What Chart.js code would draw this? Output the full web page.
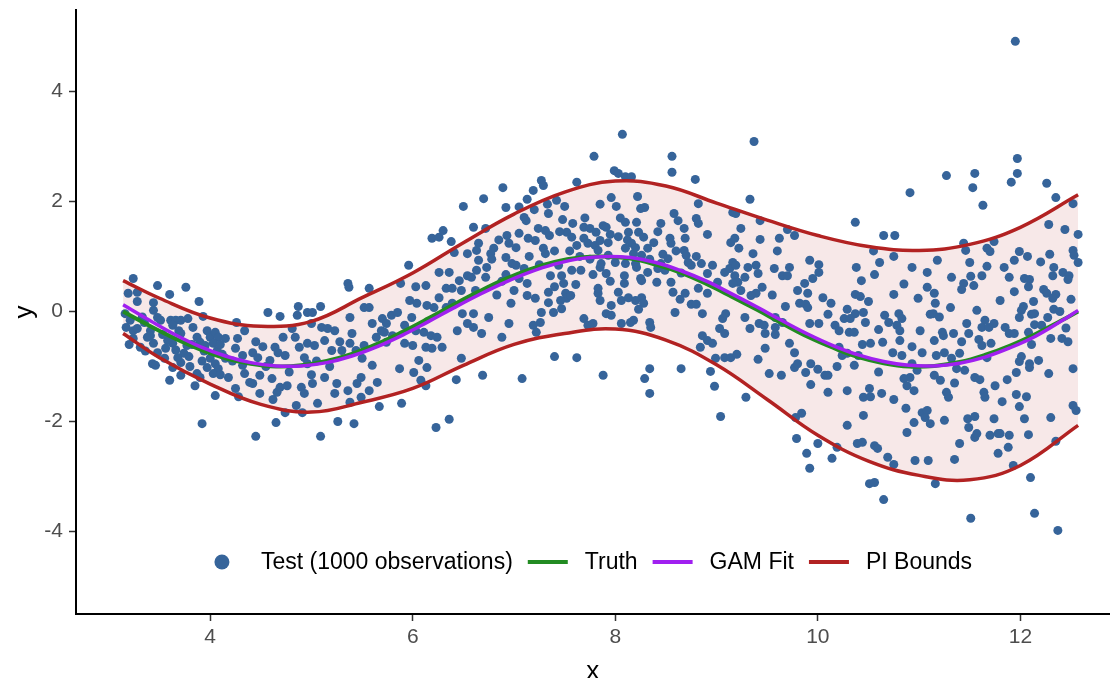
<!DOCTYPE html>
<html>
<head>
<meta charset="utf-8">
<script src="https://cdn.jsdelivr.net/npm/chart.js@4/dist/chart.umd.min.js"></script>
<style>
  html, body { margin: 0; padding: 0; background: #fff; }
  #wrap { width: 1114px; height: 678px; }
</style>
</head>
<body>
<div id="wrap"><canvas id="gamChart" width="1114" height="678"></canvas></div>
<script>
// test observations (x, y)
const testPoints = [
  [3.24,0.6],[3.48,0.47],[3.76,0.44],[3.6,0.31],[3.89,0.18],[3.19,0.33],[3.28,0.35],[3.28,0.18],[3.44,0.16],[3.16,-0.04],
  [3.17,-0.29],[3.24,-0.35],[3.28,-0.31],[3.38,-0.47],[3.41,-0.35],[3.48,-0.11],[3.51,-0.16],[3.44,0.02],[3.61,-0.16],[3.66,-0.16],
  [3.71,-0.16],[3.63,-0.25],[3.69,-0.35],[3.71,-0.4],[3.63,-0.58],[3.58,-0.53],[3.44,-0.58],[3.41,-0.44],[3.48,-0.75],[3.43,-0.95],
  [3.46,-0.98],[3.63,-1.02],[3.71,-1.16],[3.71,-0.93],[3.74,-0.76],[3.68,-0.84],[3.77,-0.62],[3.83,-0.29],[3.87,-0.47],[3.9,-0.56],
  [3.97,-0.35],[4.0,-0.47],[4.05,-0.38],[4.08,-0.47],[4.03,-0.58],[4.07,-0.71],[4.0,-0.85],[4.05,-0.95],[4.08,-1.04],[4.03,-1.13],
  [3.97,-1.02],[4.15,-0.49],[4.15,-0.85],[4.18,-1.2],[3.87,-1.13],[3.85,-1.35],[4.05,-1.53],[3.93,-0.09],[3.92,-2.04],[3.24,-0.49],
  [3.31,-0.65],[3.21,-0.16],[3.78,-0.13],
  [3.35,-0.2],[3.53,-0.42],[3.56,-0.67],[3.66,-0.7],[3.79,-0.82],[3.82,-0.6],[3.94,-0.72],[3.95,-0.62],[4.1,-0.6],[4.12,-0.78],
  [4.22,-0.9],[4.1,-1.15],[3.92,-0.9],[3.8,-1.0],[3.55,-0.85],[3.33,-0.1],[3.2,-0.6],[3.36,-0.72],[3.6,-1.25],[3.9,-1.2],
  [5.36,0.51],[5.37,0.44],[4.57,-0.02],[4.69,-0.09],[4.87,0.09],[4.86,-0.07],[4.96,-0.02],[5.01,-0.02],[5.09,0.09],[4.26,-0.2],
  [4.34,-0.35],[4.27,-0.49],[4.25,-0.67],[4.32,-0.8],[4.42,-0.75],[4.52,-0.64],[4.64,-0.65],[4.67,-0.75],[4.74,-0.8],[4.72,-0.47],
  [4.84,-0.47],[4.81,-0.31],[4.96,-0.58],[5.03,-0.62],[5.0,-0.22],[5.1,-0.29],[5.16,-0.31],[5.23,-0.35],[5.13,-0.53],[5.2,-0.71],
  [5.3,-0.71],[5.38,-0.58],[5.4,-0.4],[4.93,-0.84],[4.96,-0.95],[4.34,-1.13],[4.39,-1.29],[4.42,-1.31],[4.49,-1.16],[4.61,-1.22],
  [4.66,-1.47],[4.69,-1.38],[4.76,-1.35],[4.49,-1.49],[4.25,-1.4],[4.28,-1.55],[4.9,-1.38],[4.93,-1.49],[5.01,-1.31],[5.13,-1.2],
  [5.25,-1.31],[5.23,-1.49],[5.36,-1.44],[4.85,-1.71],[4.91,-1.84],[5.06,-1.67],[4.74,-1.84],[4.65,-2.02],[4.45,-2.27],[5.09,-2.27],
  [5.26,-2.0],[5.42,-2.04],[5.38,-1.65],[4.47,-0.84],[4.59,-0.89],[4.32,-0.98],
  [4.45,-0.55],[4.55,-1.0],[4.78,-1.1],[4.88,-0.65],[5.05,-0.9],[5.18,-1.0],[5.28,-0.55],[4.62,-1.6],[5.0,-1.15],
  [6.5,1.91],[6.19,1.33],[6.26,1.35],[6.3,1.47],[6.38,1.27],[6.41,1.07],[6.54,1.05],[6.63,1.11],[5.96,0.84],[6.26,0.71],
  [6.36,0.71],[6.46,0.56],[6.54,0.65],[6.58,0.62],[6.33,0.42],[6.39,0.42],[6.48,0.38],[6.13,0.47],[6.03,0.45],[5.88,0.51],
  [5.97,0.2],[6.04,0.15],[6.14,0.11],[6.21,0.07],[6.26,0.25],[6.33,0.07],[6.39,0.15],[6.49,-0.04],[6.54,-0.22],[6.6,-0.29],
  [6.44,-0.35],[5.57,0.42],[5.38,-0.11],[5.52,0.07],[5.6,-0.22],[5.7,-0.13],[5.79,-0.07],[5.85,-0.02],[5.69,-0.35],[5.64,-0.47],
  [5.74,-0.56],[5.8,-0.44],[5.92,-0.25],[5.99,-0.11],[6.03,-0.35],[6.11,-0.38],[6.18,-0.44],[6.24,-0.47],[6.13,-0.65],[6.19,-0.67],
  [6.29,-0.65],[5.92,-0.58],[6.0,-0.62],[5.44,-0.71],[5.52,-0.62],[5.5,-0.85],[5.6,-0.98],[5.49,-1.2],[5.65,-1.29],[5.45,-1.31],
  [5.57,-1.44],[5.49,-1.56],[6.06,-0.89],[6.01,-1.11],[6.14,-1.02],[6.08,-1.25],[5.87,-1.04],[6.13,-1.35],[6.48,-0.85],[6.43,-1.24],
  [5.89,-1.67],[5.67,-1.73],[6.23,-2.11],[6.36,-1.96],[5.57,0.07],[5.74,-0.22],[5.72,-0.38],
  [7.79,2.82],[6.89,2.25],[6.7,2.05],[7.27,2.38],[7.29,2.29],[7.19,2.2],[7.13,2.04],[6.92,1.89],[7.62,2.35],[7.42,2.02],
  [7.33,1.95],[7.5,1.91],[7.85,1.95],[7.34,1.78],[7.1,1.71],[7.12,1.65],[7.48,1.67],[6.72,1.51],[6.6,1.53],[7.24,1.51],
  [7.31,1.47],[7.35,1.38],[7.52,1.44],[7.69,1.53],[7.75,1.51],[7.81,1.44],[7.05,1.42],[6.93,1.38],[7.14,1.33],[7.21,1.29],
  [7.57,1.35],[7.62,1.2],[7.69,1.33],[7.73,1.24],[6.95,1.24],[7.02,1.16],[6.65,1.24],[6.8,1.15],[6.77,1.05],[7.29,1.15],
  [7.31,1.05],[6.92,0.98],[6.65,0.93],[6.73,0.8],[6.63,0.75],[6.98,0.87],[7.02,0.84],[7.1,0.78],[7.44,0.84],[7.57,0.75],
  [7.66,0.75],[7.78,0.67],[7.85,0.8],[6.72,0.62],[6.92,0.67],[7.13,0.51],[7.36,0.65],[7.47,0.65],[7.49,0.51],[7.61,0.49],
  [6.62,0.38],[7.0,0.38],[7.13,0.29],[7.21,0.24],[7.34,0.35],[7.51,0.33],[7.52,0.24],[7.56,0.29],[7.83,0.33],[7.85,0.2],
  [6.97,0.15],[7.34,0.16],[7.46,0.2],[7.39,-0.02],[7.47,0.05],[7.27,-0.02],[6.75,-0.11],[6.6,-0.04],[6.95,-0.22],[7.26,-0.2],
  [7.19,-0.25],[7.22,-0.38],[6.68,-0.4],[6.88,-0.47],[7.69,-0.13],[7.73,-0.25],[7.78,-0.22],[7.4,-0.82],[7.62,-0.84],[6.69,-1.16],
  [7.08,-1.22],[7.88,-1.16],
  [6.78,0.95],[6.85,1.3],[6.88,0.55],[7.05,0.6],[7.15,1.0],[7.25,0.85],[7.4,1.1],[7.45,1.45],[7.55,1.1],[7.65,1.0],
  [7.7,1.7],[7.75,0.95],[7.8,1.2],[7.95,1.4],[8.05,1.7],[8.12,1.3],[8.18,1.05],[8.25,0.6],[7.58,1.6],[7.4,0.45],
  [6.83,0.3],[7.05,1.9],[7.2,1.85],[7.95,0.55],[8.38,1.25],[8.45,1.6],[8.6,1.1],[8.65,0.7],
  [8.07,3.22],[8.56,2.82],[8.56,2.53],[8.79,2.4],[7.99,2.56],[8.03,2.51],[8.1,2.45],[8.16,2.45],[7.96,2.07],[8.22,2.09],
  [8.01,1.91],[8.25,1.87],[8.29,1.89],[8.82,1.96],[8.58,1.78],[8.62,1.65],[8.8,1.69],[8.82,1.6],[8.68,1.51],[8.91,1.4],
  [7.88,1.56],[7.91,1.53],[8.1,1.62],[8.13,1.44],[8.21,1.62],[8.23,1.44],[8.28,1.35],[8.42,1.45],[8.54,1.33],[8.55,1.24],
  [8.69,1.33],[8.03,1.36],[7.85,1.29],[7.93,1.25],[8.16,1.24],[8.2,1.16],[8.32,1.15],[8.68,1.11],[8.7,1.02],[8.47,1.04],
  [7.83,1.11],[7.93,1.02],[8.1,1.15],[8.26,1.02],[8.34,0.95],[8.52,0.96],[8.8,1.0],[8.72,0.89],[8.75,0.84],[8.85,0.87],
  [8.96,0.84],[7.86,0.87],[8.0,0.89],[8.1,0.87],[8.2,0.87],[8.21,0.8],[8.32,0.71],[8.45,0.87],[8.42,0.78],[8.49,0.75],
  [8.91,0.69],[9.08,0.71],[7.91,0.69],[8.09,0.65],[8.09,0.51],[8.26,0.56],[8.41,0.53],[8.55,0.53],[9.01,0.53],[8.82,0.42],
  [7.83,0.42],[8.03,0.35],[8.06,0.2],[8.13,0.25],[8.2,0.2],[8.26,0.25],[8.28,0.15],[8.57,0.35],[8.64,0.22],[8.69,0.33],
  [8.75,0.13],[8.8,0.13],[8.91,0.33],[7.96,0.11],[8.23,0.04],[7.91,-0.04],[7.96,-0.07],[8.59,-0.02],[8.86,-0.04],[8.18,-0.16],
  [8.15,-0.2],[8.34,-0.2],[8.35,-0.29],[8.06,-0.22],[9.06,-0.13],[9.03,-0.31],[8.86,-0.44],[8.91,-0.53],[8.96,-0.58],[8.84,-0.65],
  [8.99,-0.85],[9.08,-0.84],[8.34,-1.04],[8.29,-1.22],[8.34,-1.49],[8.65,-1.04],[8.94,-1.09],[8.98,-1.36],[9.04,-1.91],
  [9.37,3.09],[9.33,2.04],[9.16,1.8],[9.19,1.78],[9.43,1.65],[9.24,1.51],[9.7,1.49],[9.77,1.38],[9.62,1.33],[9.43,1.31],
  [9.14,1.25],[9.18,1.33],[9.22,1.15],[9.36,1.05],[9.92,0.93],[10.01,0.85],[10.01,0.71],[9.95,0.6],[9.87,0.51],[9.72,0.8],
  [9.65,0.65],[9.7,0.65],[9.57,0.78],[9.39,0.84],[9.41,0.69],[9.31,0.8],[9.28,0.62],[9.16,0.89],[9.13,0.78],[9.19,0.84],
  [9.18,0.65],[9.21,0.53],[9.16,0.51],[9.24,0.38],[9.45,0.44],[9.39,0.33],[9.34,0.29],[9.8,0.38],[9.9,0.33],[9.82,0.15],
  [9.88,0.13],[9.9,0.07],[9.68,0.09],[10.13,0.15],[10.1,-0.05],[10.26,-0.13],[10.17,-0.25],[10.21,-0.35],[9.09,-0.04],[9.08,-0.4],
  [9.28,-0.11],[9.33,-0.31],[9.42,-0.22],[9.47,-0.25],[9.48,-0.4],[9.58,-0.11],[9.58,-0.29],[9.58,-0.42],[9.65,-0.2],[9.92,-0.22],
  [10.01,-0.22],[9.72,-0.58],[9.77,-0.75],[9.48,-0.67],[9.14,-0.84],[9.2,-0.78],[9.41,-0.87],[9.52,-1.13],[9.64,-1.16],[9.77,-1.02],
  [9.8,-0.95],[9.88,-1.11],[9.93,-0.95],[9.93,-1.33],[10.0,-1.05],[10.07,-1.16],[10.1,-1.16],[10.1,-1.47],[10.21,-0.65],[10.24,-0.8],
  [10.19,-1.0],[9.29,-1.56],[9.78,-1.93],[9.84,-1.85],[9.79,-2.31],[9.89,-2.58],[9.92,-2.85],[10.0,-2.4],[10.14,-2.67],[10.19,-2.47],
  [11.27,2.47],[11.55,2.51],[11.53,2.25],[10.91,2.16],[10.37,1.62],[10.65,1.38],[10.76,1.38],[11.44,1.24],[11.46,1.11],[10.75,1.0],
  [10.61,0.89],[11.18,0.93],[11.5,0.89],[10.38,0.8],[10.56,0.67],[10.93,0.8],[11.08,0.71],[10.43,0.56],[11.32,0.62],[11.51,0.64],
  [11.44,0.51],[11.42,0.4],[11.54,0.47],[10.37,0.31],[10.42,0.27],[10.5,0.18],[10.75,0.31],[10.99,0.24],[11.08,0.44],[11.15,0.33],
  [11.16,0.15],[11.31,0.07],[11.11,-0.05],[11.14,-0.04],[10.29,0.04],[10.37,-0.04],[10.45,-0.02],[10.47,-0.2],[10.32,-0.13],[10.66,-0.07],
  [10.7,-0.2],[10.78,-0.25],[10.8,-0.04],[10.83,-0.13],[10.6,-0.33],[10.31,-0.38],[10.36,-0.38],[10.81,-0.35],[11.01,-0.35],[11.23,-0.38],
  [11.24,-0.44],[11.34,-0.4],[11.47,-0.22],[11.49,-0.4],[11.42,-0.55],[11.15,-0.53],[10.52,-0.58],[10.44,-0.6],[10.64,-0.56],[10.81,-0.53],
  [10.93,-0.64],[10.74,-0.75],[10.83,-0.8],[11.03,-0.75],[11.17,-0.8],[11.25,-0.75],[11.4,-0.76],[11.32,-0.85],[10.29,-0.76],[10.36,-0.98],
  [11.37,-1.04],[11.45,-1.07],[10.93,-0.95],[10.98,-1.07],[10.91,-1.2],[10.85,-1.22],[10.88,-1.35],[10.95,-1.44],[11.15,-1.16],[11.21,-1.25],
  [11.27,-1.47],[11.29,-1.56],[10.75,-1.6],[10.63,-1.49],[10.51,-1.4],[10.45,-1.56],[10.52,-1.55],[10.29,-1.44],[10.87,-1.76],[11.03,-1.84],
  [11.08,-1.8],[11.06,-1.93],[11.11,-2.04],[11.25,-1.98],[11.48,-1.95],[11.49,-2.11],[11.55,-2.29],[10.95,-2.02],[10.88,-2.2],[10.45,-1.89],
  [10.29,-2.07],[10.39,-2.4],[10.44,-2.38],[10.56,-2.44],[10.59,-2.49],[10.69,-2.65],[10.75,-2.78],[10.96,-2.71],[11.09,-2.71],[11.35,-2.69],
  [11.4,-2.4],[10.51,-3.13],[10.56,-3.11],[11.16,-3.13],[10.65,-3.42],[11.51,-3.76],
  [9.55,0.3],[9.6,1.1],[10.05,0.25],[10.4,-0.8],[10.6,-1.1],[10.85,0.5],[11.2,-0.1],[11.35,-1.3],[11.8,0.2],[12.2,0.9],
  [12.45,-0.3],[10.55,1.1],
  [11.95,4.91],[11.97,2.78],[11.97,2.51],[11.91,2.35],[12.26,2.33],[11.63,1.93],[12.35,2.07],[12.52,1.96],[12.28,1.58],[12.44,1.49],
  [12.57,1.4],[11.67,1.15],[11.7,1.09],[11.74,1.27],[11.99,1.09],[11.94,0.93],[12.07,1.0],[12.29,1.04],[12.52,1.11],[12.57,0.89],
  [12.53,1.02],[11.67,0.82],[11.62,0.65],[11.84,0.8],[11.89,0.62],[12.04,0.6],[12.09,0.58],[12.08,0.45],[12.32,0.65],[12.33,0.8],
  [12.42,0.71],[12.48,0.65],[12.47,0.58],[11.94,0.36],[12.23,0.4],[12.26,0.33],[12.35,0.31],[12.32,0.24],[12.5,0.22],[11.57,0.02],
  [12.03,0.09],[12.13,0.18],[12.01,0.02],[12.11,-0.05],[12.14,-0.04],[11.99,-0.11],[12.33,0.04],[12.39,0.0],[12.27,-0.11],[11.65,-0.16],
  [11.74,-0.22],[11.62,-0.29],[11.69,-0.29],[11.85,-0.29],[12.14,-0.24],[12.21,-0.25],[11.89,-0.4],[11.94,-0.4],[12.08,-0.38],[11.59,-0.51],
  [11.62,-0.62],[11.71,-0.58],[12.11,-0.6],[12.3,-0.49],[12.41,-0.49],[12.47,-0.55],[11.67,-0.84],[12.01,-0.82],[11.99,-0.91],[12.18,-0.89],
  [12.09,-0.95],[12.09,-1.02],[11.96,-1.11],[12.28,-1.13],[12.52,-1.04],[11.55,-1.2],[11.6,-1.24],[11.87,-1.24],[11.75,-1.35],[11.64,-1.47],
  [11.65,-1.56],[11.96,-1.51],[12.06,-1.55],[11.82,-1.64],[11.99,-1.73],[12.52,-1.71],[12.55,-1.8],[11.55,-1.91],[11.74,-1.95],[12.04,-1.95],
  [12.3,-1.93],[11.57,-2.22],[11.7,-2.25],[11.78,-2.22],[11.8,-2.22],[11.89,-2.25],[12.08,-2.24],[11.78,-2.58],[11.88,-2.47],[12.35,-2.36],
  [11.93,-2.8],[12.1,-3.02],[12.14,-3.67],[12.37,-3.98]
];

// smooth curves
const curveX = [3.14,3.4,3.65,3.9,4.15,4.4,4.65,4.9,5.15,5.4,5.65,5.9,6.15,6.4,6.65,6.9,7.15,7.4,7.65,7.9,
                8.15,8.4,8.65,8.9,9.15,9.4,9.65,9.9,10.15,10.4,10.65,10.9,11.15,11.4,11.65,11.9,12.15,12.4,12.57];
const truthY = [0.0,-0.26,-0.49,-0.69,-0.85,-0.95,-1.0,-0.98,-0.9,-0.77,-0.59,-0.37,-0.13,0.12,0.36,0.58,0.76,0.9,0.98,1.0,
                0.96,0.85,0.7,0.5,0.27,0.03,-0.22,-0.46,-0.66,-0.83,-0.94,-1.0,-0.99,-0.92,-0.79,-0.62,-0.41,-0.17,0.0];
const gamY = [0.12,-0.16,-0.42,-0.64,-0.81,-0.93,-0.99,-0.99,-0.93,-0.81,-0.64,-0.43,-0.19,0.06,0.3,0.52,0.71,0.86,0.96,1.0,
              0.98,0.89,0.74,0.55,0.32,0.08,-0.17,-0.41,-0.62,-0.79,-0.91,-0.98,-0.99,-0.94,-0.83,-0.66,-0.45,-0.18,0.02];

const piX = [3.14,3.5,4,4.5,5,5.5,6,6.5,7,7.5,8,8.5,9,9.5,10,10.5,11,11.5,12,12.57];
const piUpper = [0.56,0.24,-0.12,-0.27,-0.18,0.25,0.7,1.25,1.77,2.17,2.37,2.28,1.97,1.66,1.38,1.18,1.11,1.22,1.53,2.12];
const piLower = [-0.4,-0.84,-1.32,-1.69,-1.83,-1.65,-1.4,-0.98,-0.6,-0.4,-0.32,-0.52,-0.97,-1.6,-2.25,-2.72,-2.98,-3.06,-2.8,-2.07];

const xTicks = [4, 6, 8, 10, 12];
const yTicks = [-4, -2, 0, 2, 4];

const FONT = "'Liberation Sans', Arial, sans-serif";
const toXY = (xs, ys) => xs.map((x, i) => ({ x, y: ys[i] }));

// ggplot-style legend sitting inside the panel near the bottom
const insideLegend = {
  id: 'insideLegend',
  afterDatasetsDraw(chart) {
    const { ctx, chartArea } = chart;
    const items = chart.data.datasets.filter(d => d.legendKey);
    const keyW = 40, keyGap = 17, itemGap = 15;
    ctx.save();
    ctx.font = `23px ${FONT}`;
    let total = 0;
    items.forEach(d => { total += keyW + keyGap + ctx.measureText(d.label).width; });
    total += itemGap * (items.length - 1);
    let x = chartArea.left + 512 - total / 2;
    const y = chartArea.bottom - 52;
    ctx.textBaseline = 'middle';
    items.forEach(d => {
      if (d.legendKey === 'point') {
        ctx.fillStyle = d.backgroundColor;
        ctx.beginPath();
        ctx.arc(x + keyW / 2 - 2, y, 7.5, 0, Math.PI * 2);
        ctx.fill();
      } else {
        ctx.strokeStyle = d.borderColor;
        ctx.lineWidth = 4;
        ctx.beginPath();
        ctx.moveTo(x, y);
        ctx.lineTo(x + keyW, y);
        ctx.stroke();
      }
      x += keyW + keyGap;
      ctx.fillStyle = '#000';
      ctx.fillText(d.label, x, y + 1);
      x += ctx.measureText(d.label).width + itemGap;
    });
    ctx.restore();
  }
};

new Chart(document.getElementById('gamChart'), {
  type: 'scatter',
  data: {
    datasets: [
      {
        label: 'Test (1000 observations)',
        legendKey: 'point',
        data: testPoints.map(([x, y]) => ({ x, y })),
        backgroundColor: '#36649A',
        borderWidth: 0,
        pointRadius: 4.5,
        order: 5
      },
      {
        type: 'line',
        label: 'Truth',
        legendKey: 'line',
        data: toXY(curveX, truthY),
        borderColor: '#228B22',
        borderWidth: 4,
        pointRadius: 0,
        tension: 0.4,
        fill: false,
        order: 3
      },
      {
        type: 'line',
        label: 'GAM Fit',
        legendKey: 'line',
        data: toXY(curveX, gamY),
        borderColor: '#A020F0',
        borderWidth: 3.5,
        pointRadius: 0,
        tension: 0.4,
        fill: false,
        order: 2
      },
      {
        type: 'line',
        label: 'PI Bounds',
        legendKey: 'line',
        data: toXY(piX, piUpper),
        borderColor: '#B22222',
        borderWidth: 3.5,
        pointRadius: 0,
        tension: 0.4,
        fill: '+1',
        backgroundColor: 'rgba(178,34,34,0.1)',
        order: 1
      },
      {
        type: 'line',
        label: 'PI lower',
        data: toXY(piX, piLower),
        borderColor: '#B22222',
        borderWidth: 3.5,
        pointRadius: 0,
        tension: 0.4,
        fill: false,
        order: 1
      }
    ]
  },
  options: {
    responsive: false,
    animation: false,
    devicePixelRatio: 1,
    layout: { padding: { top: 10, right: 0, left: 0, bottom: 0 } },
    plugins: {
      legend: { display: false },
      tooltip: { enabled: false },
      filler: { drawTime: 'beforeDatasetsDraw' }
    },
    scales: {
      x: {
        type: 'linear',
        min: 2.675,
        max: 12.88,
        afterBuildTicks: s => { s.ticks = xTicks.map(v => ({ value: v })); },
        afterFit: s => { s.height = 64; s.paddingLeft = 0; s.paddingRight = 0; },
        grid: { drawOnChartArea: false, color: '#333', tickLength: 7, tickWidth: 1.5 },
        border: { color: '#000', width: 2 },
        ticks: { color: '#4D4D4D', font: { family: FONT, size: 21 }, padding: 4 },
        title: { display: true, text: 'x', color: '#000', font: { family: FONT, size: 26, lineHeight: 0.5 }, padding: { top: 0, bottom: 0 } }
      },
      y: {
        min: -5.5,
        max: 5.48,
        afterBuildTicks: s => { s.ticks = yTicks.map(v => ({ value: v })); },
        afterFit: s => { s.width = 76; s.paddingTop = 0; s.paddingBottom = 0; },
        grid: { drawOnChartArea: false, color: '#333', tickLength: 7, tickWidth: 1.5 },
        border: { color: '#000', width: 2 },
        ticks: { color: '#4D4D4D', font: { family: FONT, size: 21 }, padding: 6 },
        title: { display: true, text: 'y', color: '#000', font: { family: FONT, size: 26, lineHeight: 1 }, padding: { top: 12, bottom: 0 } }
      }
    }
  },
  plugins: [insideLegend]
});
</script>
</body>
</html>
